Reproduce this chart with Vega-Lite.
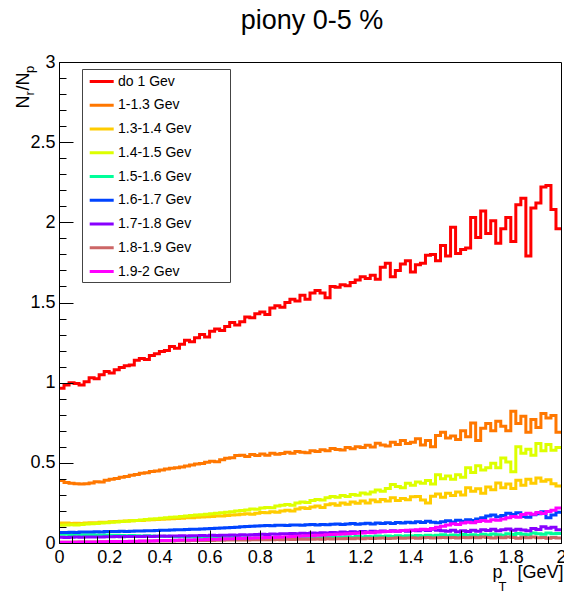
{
  "$schema": "https://vega.github.io/schema/vega-lite/v6.json",
  "width": 502,
  "height": 481,
  "autosize": {"type": "none"},
  "padding": {"left": 59, "top": 62, "right": 3, "bottom": 50},
  "background": "white",
  "title": {"text": "piony 0-5 %", "font": "Liberation Sans", "fontSize": 27, "fontWeight": "normal", "color": "black", "anchor": "middle", "frame": "group", "baseline": "alphabetic", "offset": 3, "dx": 2, "dy": 6},
  "config": {"view": {"stroke": "black", "strokeWidth": 1}, "font": "Liberation Sans"},
  "data": {"values": [
{"s":"do 1 Gev","x":0,"y":0.965},{"s":"do 1 Gev","x":0.02,"y":0.985},{"s":"do 1 Gev","x":0.04,"y":1.0},{"s":"do 1 Gev","x":0.06,"y":0.995},{"s":"do 1 Gev","x":0.08,"y":0.985},{"s":"do 1 Gev","x":0.1,"y":1.005},{"s":"do 1 Gev","x":0.12,"y":1.03},{"s":"do 1 Gev","x":0.14,"y":1.025},{"s":"do 1 Gev","x":0.16,"y":1.05},{"s":"do 1 Gev","x":0.18,"y":1.07},
{"s":"do 1 Gev","x":0.2,"y":1.06},{"s":"do 1 Gev","x":0.22,"y":1.08},{"s":"do 1 Gev","x":0.24,"y":1.095},{"s":"do 1 Gev","x":0.26,"y":1.105},{"s":"do 1 Gev","x":0.28,"y":1.11},{"s":"do 1 Gev","x":0.3,"y":1.14},{"s":"do 1 Gev","x":0.32,"y":1.15},{"s":"do 1 Gev","x":0.34,"y":1.145},{"s":"do 1 Gev","x":0.36,"y":1.17},{"s":"do 1 Gev","x":0.38,"y":1.18},
{"s":"do 1 Gev","x":0.4,"y":1.195},{"s":"do 1 Gev","x":0.42,"y":1.2},{"s":"do 1 Gev","x":0.44,"y":1.225},{"s":"do 1 Gev","x":0.46,"y":1.215},{"s":"do 1 Gev","x":0.48,"y":1.24},{"s":"do 1 Gev","x":0.5,"y":1.265},{"s":"do 1 Gev","x":0.52,"y":1.255},{"s":"do 1 Gev","x":0.54,"y":1.28},{"s":"do 1 Gev","x":0.56,"y":1.3},{"s":"do 1 Gev","x":0.58,"y":1.285},
{"s":"do 1 Gev","x":0.6,"y":1.32},{"s":"do 1 Gev","x":0.62,"y":1.335},{"s":"do 1 Gev","x":0.64,"y":1.325},{"s":"do 1 Gev","x":0.66,"y":1.35},{"s":"do 1 Gev","x":0.68,"y":1.375},{"s":"do 1 Gev","x":0.7,"y":1.36},{"s":"do 1 Gev","x":0.72,"y":1.38},{"s":"do 1 Gev","x":0.74,"y":1.41},{"s":"do 1 Gev","x":0.76,"y":1.405},{"s":"do 1 Gev","x":0.78,"y":1.43},
{"s":"do 1 Gev","x":0.8,"y":1.44},{"s":"do 1 Gev","x":0.82,"y":1.425},{"s":"do 1 Gev","x":0.84,"y":1.465},{"s":"do 1 Gev","x":0.86,"y":1.48},{"s":"do 1 Gev","x":0.88,"y":1.47},{"s":"do 1 Gev","x":0.9,"y":1.5},{"s":"do 1 Gev","x":0.92,"y":1.52},{"s":"do 1 Gev","x":0.94,"y":1.51},{"s":"do 1 Gev","x":0.96,"y":1.545},{"s":"do 1 Gev","x":0.98,"y":1.52},
{"s":"do 1 Gev","x":1,"y":1.56},{"s":"do 1 Gev","x":1.02,"y":1.575},{"s":"do 1 Gev","x":1.04,"y":1.56},{"s":"do 1 Gev","x":1.06,"y":1.53},{"s":"do 1 Gev","x":1.08,"y":1.6},{"s":"do 1 Gev","x":1.1,"y":1.595},{"s":"do 1 Gev","x":1.12,"y":1.61},{"s":"do 1 Gev","x":1.14,"y":1.605},{"s":"do 1 Gev","x":1.16,"y":1.625},{"s":"do 1 Gev","x":1.18,"y":1.64},
{"s":"do 1 Gev","x":1.2,"y":1.66},{"s":"do 1 Gev","x":1.22,"y":1.65},{"s":"do 1 Gev","x":1.24,"y":1.67},{"s":"do 1 Gev","x":1.26,"y":1.645},{"s":"do 1 Gev","x":1.28,"y":1.72},{"s":"do 1 Gev","x":1.3,"y":1.745},{"s":"do 1 Gev","x":1.32,"y":1.66},{"s":"do 1 Gev","x":1.34,"y":1.7},{"s":"do 1 Gev","x":1.36,"y":1.74},{"s":"do 1 Gev","x":1.38,"y":1.76},
{"s":"do 1 Gev","x":1.4,"y":1.69},{"s":"do 1 Gev","x":1.42,"y":1.735},{"s":"do 1 Gev","x":1.44,"y":1.745},{"s":"do 1 Gev","x":1.46,"y":1.795},{"s":"do 1 Gev","x":1.48,"y":1.8},{"s":"do 1 Gev","x":1.5,"y":1.76},{"s":"do 1 Gev","x":1.52,"y":1.855},{"s":"do 1 Gev","x":1.54,"y":1.79},{"s":"do 1 Gev","x":1.56,"y":1.97},{"s":"do 1 Gev","x":1.58,"y":1.805},
{"s":"do 1 Gev","x":1.6,"y":1.83},{"s":"do 1 Gev","x":1.62,"y":1.84},{"s":"do 1 Gev","x":1.64,"y":2.03},{"s":"do 1 Gev","x":1.66,"y":1.905},{"s":"do 1 Gev","x":1.68,"y":2.07},{"s":"do 1 Gev","x":1.7,"y":1.93},{"s":"do 1 Gev","x":1.72,"y":2.01},{"s":"do 1 Gev","x":1.74,"y":1.87},{"s":"do 1 Gev","x":1.76,"y":1.96},{"s":"do 1 Gev","x":1.78,"y":2.03},
{"s":"do 1 Gev","x":1.8,"y":1.88},{"s":"do 1 Gev","x":1.82,"y":2.11},{"s":"do 1 Gev","x":1.84,"y":2.15},{"s":"do 1 Gev","x":1.86,"y":1.79},{"s":"do 1 Gev","x":1.88,"y":2.09},{"s":"do 1 Gev","x":1.9,"y":2.12},{"s":"do 1 Gev","x":1.92,"y":2.22},{"s":"do 1 Gev","x":1.94,"y":2.23},{"s":"do 1 Gev","x":1.96,"y":2.08},{"s":"do 1 Gev","x":1.98,"y":1.96},
{"s":"do 1 Gev","x":2,"y":1.96},
{"s":"1-1.3 Gev","x":0,"y":0.39},{"s":"1-1.3 Gev","x":0.02,"y":0.378},{"s":"1-1.3 Gev","x":0.04,"y":0.372},{"s":"1-1.3 Gev","x":0.06,"y":0.37},{"s":"1-1.3 Gev","x":0.08,"y":0.368},{"s":"1-1.3 Gev","x":0.1,"y":0.369},{"s":"1-1.3 Gev","x":0.12,"y":0.375},{"s":"1-1.3 Gev","x":0.14,"y":0.382},{"s":"1-1.3 Gev","x":0.16,"y":0.38},{"s":"1-1.3 Gev","x":0.18,"y":0.392},
{"s":"1-1.3 Gev","x":0.2,"y":0.398},{"s":"1-1.3 Gev","x":0.22,"y":0.402},{"s":"1-1.3 Gev","x":0.24,"y":0.41},{"s":"1-1.3 Gev","x":0.26,"y":0.414},{"s":"1-1.3 Gev","x":0.28,"y":0.422},{"s":"1-1.3 Gev","x":0.3,"y":0.428},{"s":"1-1.3 Gev","x":0.32,"y":0.435},{"s":"1-1.3 Gev","x":0.34,"y":0.438},{"s":"1-1.3 Gev","x":0.36,"y":0.446},{"s":"1-1.3 Gev","x":0.38,"y":0.449},
{"s":"1-1.3 Gev","x":0.4,"y":0.455},{"s":"1-1.3 Gev","x":0.42,"y":0.462},{"s":"1-1.3 Gev","x":0.44,"y":0.466},{"s":"1-1.3 Gev","x":0.46,"y":0.47},{"s":"1-1.3 Gev","x":0.48,"y":0.474},{"s":"1-1.3 Gev","x":0.5,"y":0.48},{"s":"1-1.3 Gev","x":0.52,"y":0.486},{"s":"1-1.3 Gev","x":0.54,"y":0.492},{"s":"1-1.3 Gev","x":0.56,"y":0.496},{"s":"1-1.3 Gev","x":0.58,"y":0.503},
{"s":"1-1.3 Gev","x":0.6,"y":0.51},{"s":"1-1.3 Gev","x":0.62,"y":0.507},{"s":"1-1.3 Gev","x":0.64,"y":0.52},{"s":"1-1.3 Gev","x":0.66,"y":0.528},{"s":"1-1.3 Gev","x":0.68,"y":0.532},{"s":"1-1.3 Gev","x":0.7,"y":0.545},{"s":"1-1.3 Gev","x":0.72,"y":0.548},{"s":"1-1.3 Gev","x":0.74,"y":0.54},{"s":"1-1.3 Gev","x":0.76,"y":0.552},{"s":"1-1.3 Gev","x":0.78,"y":0.546},
{"s":"1-1.3 Gev","x":0.8,"y":0.555},{"s":"1-1.3 Gev","x":0.82,"y":0.548},{"s":"1-1.3 Gev","x":0.84,"y":0.56},{"s":"1-1.3 Gev","x":0.86,"y":0.553},{"s":"1-1.3 Gev","x":0.88,"y":0.558},{"s":"1-1.3 Gev","x":0.9,"y":0.566},{"s":"1-1.3 Gev","x":0.92,"y":0.56},{"s":"1-1.3 Gev","x":0.94,"y":0.571},{"s":"1-1.3 Gev","x":0.96,"y":0.566},{"s":"1-1.3 Gev","x":0.98,"y":0.563},
{"s":"1-1.3 Gev","x":1,"y":0.575},{"s":"1-1.3 Gev","x":1.02,"y":0.57},{"s":"1-1.3 Gev","x":1.04,"y":0.582},{"s":"1-1.3 Gev","x":1.06,"y":0.575},{"s":"1-1.3 Gev","x":1.08,"y":0.59},{"s":"1-1.3 Gev","x":1.1,"y":0.583},{"s":"1-1.3 Gev","x":1.12,"y":0.58},{"s":"1-1.3 Gev","x":1.14,"y":0.595},{"s":"1-1.3 Gev","x":1.16,"y":0.588},{"s":"1-1.3 Gev","x":1.18,"y":0.6},
{"s":"1-1.3 Gev","x":1.2,"y":0.596},{"s":"1-1.3 Gev","x":1.22,"y":0.61},{"s":"1-1.3 Gev","x":1.24,"y":0.598},{"s":"1-1.3 Gev","x":1.26,"y":0.622},{"s":"1-1.3 Gev","x":1.28,"y":0.612},{"s":"1-1.3 Gev","x":1.3,"y":0.605},{"s":"1-1.3 Gev","x":1.32,"y":0.628},{"s":"1-1.3 Gev","x":1.34,"y":0.615},{"s":"1-1.3 Gev","x":1.36,"y":0.64},{"s":"1-1.3 Gev","x":1.38,"y":0.62},
{"s":"1-1.3 Gev","x":1.4,"y":0.628},{"s":"1-1.3 Gev","x":1.42,"y":0.65},{"s":"1-1.3 Gev","x":1.44,"y":0.612},{"s":"1-1.3 Gev","x":1.46,"y":0.64},{"s":"1-1.3 Gev","x":1.48,"y":0.6},{"s":"1-1.3 Gev","x":1.5,"y":0.67},{"s":"1-1.3 Gev","x":1.52,"y":0.69},{"s":"1-1.3 Gev","x":1.54,"y":0.655},{"s":"1-1.3 Gev","x":1.56,"y":0.668},{"s":"1-1.3 Gev","x":1.58,"y":0.645},
{"s":"1-1.3 Gev","x":1.6,"y":0.7},{"s":"1-1.3 Gev","x":1.62,"y":0.662},{"s":"1-1.3 Gev","x":1.64,"y":0.748},{"s":"1-1.3 Gev","x":1.66,"y":0.64},{"s":"1-1.3 Gev","x":1.68,"y":0.715},{"s":"1-1.3 Gev","x":1.7,"y":0.745},{"s":"1-1.3 Gev","x":1.72,"y":0.7},{"s":"1-1.3 Gev","x":1.74,"y":0.76},{"s":"1-1.3 Gev","x":1.76,"y":0.728},{"s":"1-1.3 Gev","x":1.78,"y":0.7},
{"s":"1-1.3 Gev","x":1.8,"y":0.822},{"s":"1-1.3 Gev","x":1.82,"y":0.745},{"s":"1-1.3 Gev","x":1.84,"y":0.79},{"s":"1-1.3 Gev","x":1.86,"y":0.69},{"s":"1-1.3 Gev","x":1.88,"y":0.77},{"s":"1-1.3 Gev","x":1.9,"y":0.72},{"s":"1-1.3 Gev","x":1.92,"y":0.808},{"s":"1-1.3 Gev","x":1.94,"y":0.78},{"s":"1-1.3 Gev","x":1.96,"y":0.795},{"s":"1-1.3 Gev","x":1.98,"y":0.69},
{"s":"1-1.3 Gev","x":2,"y":0.69},
{"s":"1.3-1.4 Gev","x":0,"y":0.125},{"s":"1.3-1.4 Gev","x":0.02,"y":0.124},{"s":"1.3-1.4 Gev","x":0.04,"y":0.122},{"s":"1.3-1.4 Gev","x":0.06,"y":0.123},{"s":"1.3-1.4 Gev","x":0.08,"y":0.121},{"s":"1.3-1.4 Gev","x":0.1,"y":0.124},{"s":"1.3-1.4 Gev","x":0.12,"y":0.126},{"s":"1.3-1.4 Gev","x":0.14,"y":0.127},{"s":"1.3-1.4 Gev","x":0.16,"y":0.129},{"s":"1.3-1.4 Gev","x":0.18,"y":0.13},
{"s":"1.3-1.4 Gev","x":0.2,"y":0.132},{"s":"1.3-1.4 Gev","x":0.22,"y":0.134},{"s":"1.3-1.4 Gev","x":0.24,"y":0.135},{"s":"1.3-1.4 Gev","x":0.26,"y":0.137},{"s":"1.3-1.4 Gev","x":0.28,"y":0.138},{"s":"1.3-1.4 Gev","x":0.3,"y":0.14},{"s":"1.3-1.4 Gev","x":0.32,"y":0.141},{"s":"1.3-1.4 Gev","x":0.34,"y":0.143},{"s":"1.3-1.4 Gev","x":0.36,"y":0.145},{"s":"1.3-1.4 Gev","x":0.38,"y":0.146},
{"s":"1.3-1.4 Gev","x":0.4,"y":0.148},{"s":"1.3-1.4 Gev","x":0.42,"y":0.15},{"s":"1.3-1.4 Gev","x":0.44,"y":0.151},{"s":"1.3-1.4 Gev","x":0.46,"y":0.153},{"s":"1.3-1.4 Gev","x":0.48,"y":0.155},{"s":"1.3-1.4 Gev","x":0.5,"y":0.157},{"s":"1.3-1.4 Gev","x":0.52,"y":0.158},{"s":"1.3-1.4 Gev","x":0.54,"y":0.16},{"s":"1.3-1.4 Gev","x":0.56,"y":0.162},{"s":"1.3-1.4 Gev","x":0.58,"y":0.163},
{"s":"1.3-1.4 Gev","x":0.6,"y":0.166},{"s":"1.3-1.4 Gev","x":0.62,"y":0.168},{"s":"1.3-1.4 Gev","x":0.64,"y":0.169},{"s":"1.3-1.4 Gev","x":0.66,"y":0.172},{"s":"1.3-1.4 Gev","x":0.68,"y":0.175},{"s":"1.3-1.4 Gev","x":0.7,"y":0.176},{"s":"1.3-1.4 Gev","x":0.72,"y":0.18},{"s":"1.3-1.4 Gev","x":0.74,"y":0.182},{"s":"1.3-1.4 Gev","x":0.76,"y":0.18},{"s":"1.3-1.4 Gev","x":0.78,"y":0.186},
{"s":"1.3-1.4 Gev","x":0.8,"y":0.19},{"s":"1.3-1.4 Gev","x":0.82,"y":0.188},{"s":"1.3-1.4 Gev","x":0.84,"y":0.195},{"s":"1.3-1.4 Gev","x":0.86,"y":0.192},{"s":"1.3-1.4 Gev","x":0.88,"y":0.2},{"s":"1.3-1.4 Gev","x":0.9,"y":0.205},{"s":"1.3-1.4 Gev","x":0.92,"y":0.199},{"s":"1.3-1.4 Gev","x":0.94,"y":0.212},{"s":"1.3-1.4 Gev","x":0.96,"y":0.22},{"s":"1.3-1.4 Gev","x":0.98,"y":0.215},
{"s":"1.3-1.4 Gev","x":1,"y":0.224},{"s":"1.3-1.4 Gev","x":1.02,"y":0.23},{"s":"1.3-1.4 Gev","x":1.04,"y":0.222},{"s":"1.3-1.4 Gev","x":1.06,"y":0.238},{"s":"1.3-1.4 Gev","x":1.08,"y":0.245},{"s":"1.3-1.4 Gev","x":1.1,"y":0.236},{"s":"1.3-1.4 Gev","x":1.12,"y":0.25},{"s":"1.3-1.4 Gev","x":1.14,"y":0.242},{"s":"1.3-1.4 Gev","x":1.16,"y":0.255},{"s":"1.3-1.4 Gev","x":1.18,"y":0.248},
{"s":"1.3-1.4 Gev","x":1.2,"y":0.262},{"s":"1.3-1.4 Gev","x":1.22,"y":0.25},{"s":"1.3-1.4 Gev","x":1.24,"y":0.268},{"s":"1.3-1.4 Gev","x":1.26,"y":0.258},{"s":"1.3-1.4 Gev","x":1.28,"y":0.272},{"s":"1.3-1.4 Gev","x":1.3,"y":0.262},{"s":"1.3-1.4 Gev","x":1.32,"y":0.282},{"s":"1.3-1.4 Gev","x":1.34,"y":0.265},{"s":"1.3-1.4 Gev","x":1.36,"y":0.278},{"s":"1.3-1.4 Gev","x":1.38,"y":0.27},
{"s":"1.3-1.4 Gev","x":1.4,"y":0.288},{"s":"1.3-1.4 Gev","x":1.42,"y":0.29},{"s":"1.3-1.4 Gev","x":1.44,"y":0.268},{"s":"1.3-1.4 Gev","x":1.46,"y":0.25},{"s":"1.3-1.4 Gev","x":1.48,"y":0.292},{"s":"1.3-1.4 Gev","x":1.5,"y":0.305},{"s":"1.3-1.4 Gev","x":1.52,"y":0.285},{"s":"1.3-1.4 Gev","x":1.54,"y":0.31},{"s":"1.3-1.4 Gev","x":1.56,"y":0.296},{"s":"1.3-1.4 Gev","x":1.58,"y":0.318},
{"s":"1.3-1.4 Gev","x":1.6,"y":0.3},{"s":"1.3-1.4 Gev","x":1.62,"y":0.345},{"s":"1.3-1.4 Gev","x":1.64,"y":0.322},{"s":"1.3-1.4 Gev","x":1.66,"y":0.338},{"s":"1.3-1.4 Gev","x":1.68,"y":0.31},{"s":"1.3-1.4 Gev","x":1.7,"y":0.35},{"s":"1.3-1.4 Gev","x":1.72,"y":0.332},{"s":"1.3-1.4 Gev","x":1.74,"y":0.375},{"s":"1.3-1.4 Gev","x":1.76,"y":0.345},{"s":"1.3-1.4 Gev","x":1.78,"y":0.368},
{"s":"1.3-1.4 Gev","x":1.8,"y":0.34},{"s":"1.3-1.4 Gev","x":1.82,"y":0.392},{"s":"1.3-1.4 Gev","x":1.84,"y":0.36},{"s":"1.3-1.4 Gev","x":1.86,"y":0.398},{"s":"1.3-1.4 Gev","x":1.88,"y":0.372},{"s":"1.3-1.4 Gev","x":1.9,"y":0.405},{"s":"1.3-1.4 Gev","x":1.92,"y":0.385},{"s":"1.3-1.4 Gev","x":1.94,"y":0.395},{"s":"1.3-1.4 Gev","x":1.96,"y":0.37},{"s":"1.3-1.4 Gev","x":1.98,"y":0.355},
{"s":"1.3-1.4 Gev","x":2,"y":0.355},
{"s":"1.4-1.5 Gev","x":0,"y":0.11},{"s":"1.4-1.5 Gev","x":0.02,"y":0.112},{"s":"1.4-1.5 Gev","x":0.04,"y":0.114},{"s":"1.4-1.5 Gev","x":0.06,"y":0.113},{"s":"1.4-1.5 Gev","x":0.08,"y":0.116},{"s":"1.4-1.5 Gev","x":0.1,"y":0.118},{"s":"1.4-1.5 Gev","x":0.12,"y":0.12},{"s":"1.4-1.5 Gev","x":0.14,"y":0.121},{"s":"1.4-1.5 Gev","x":0.16,"y":0.124},{"s":"1.4-1.5 Gev","x":0.18,"y":0.126},
{"s":"1.4-1.5 Gev","x":0.2,"y":0.13},{"s":"1.4-1.5 Gev","x":0.22,"y":0.131},{"s":"1.4-1.5 Gev","x":0.24,"y":0.134},{"s":"1.4-1.5 Gev","x":0.26,"y":0.136},{"s":"1.4-1.5 Gev","x":0.28,"y":0.139},{"s":"1.4-1.5 Gev","x":0.3,"y":0.141},{"s":"1.4-1.5 Gev","x":0.32,"y":0.144},{"s":"1.4-1.5 Gev","x":0.34,"y":0.146},{"s":"1.4-1.5 Gev","x":0.36,"y":0.149},{"s":"1.4-1.5 Gev","x":0.38,"y":0.151},
{"s":"1.4-1.5 Gev","x":0.4,"y":0.155},{"s":"1.4-1.5 Gev","x":0.42,"y":0.157},{"s":"1.4-1.5 Gev","x":0.44,"y":0.16},{"s":"1.4-1.5 Gev","x":0.46,"y":0.162},{"s":"1.4-1.5 Gev","x":0.48,"y":0.166},{"s":"1.4-1.5 Gev","x":0.5,"y":0.168},{"s":"1.4-1.5 Gev","x":0.52,"y":0.171},{"s":"1.4-1.5 Gev","x":0.54,"y":0.174},{"s":"1.4-1.5 Gev","x":0.56,"y":0.176},{"s":"1.4-1.5 Gev","x":0.58,"y":0.179},
{"s":"1.4-1.5 Gev","x":0.6,"y":0.183},{"s":"1.4-1.5 Gev","x":0.62,"y":0.185},{"s":"1.4-1.5 Gev","x":0.64,"y":0.188},{"s":"1.4-1.5 Gev","x":0.66,"y":0.192},{"s":"1.4-1.5 Gev","x":0.68,"y":0.195},{"s":"1.4-1.5 Gev","x":0.7,"y":0.199},{"s":"1.4-1.5 Gev","x":0.72,"y":0.203},{"s":"1.4-1.5 Gev","x":0.74,"y":0.206},{"s":"1.4-1.5 Gev","x":0.76,"y":0.212},{"s":"1.4-1.5 Gev","x":0.78,"y":0.21},
{"s":"1.4-1.5 Gev","x":0.8,"y":0.218},{"s":"1.4-1.5 Gev","x":0.82,"y":0.222},{"s":"1.4-1.5 Gev","x":0.84,"y":0.22},{"s":"1.4-1.5 Gev","x":0.86,"y":0.23},{"s":"1.4-1.5 Gev","x":0.88,"y":0.235},{"s":"1.4-1.5 Gev","x":0.9,"y":0.24},{"s":"1.4-1.5 Gev","x":0.92,"y":0.236},{"s":"1.4-1.5 Gev","x":0.94,"y":0.25},{"s":"1.4-1.5 Gev","x":0.96,"y":0.256},{"s":"1.4-1.5 Gev","x":0.98,"y":0.252},
{"s":"1.4-1.5 Gev","x":1,"y":0.265},{"s":"1.4-1.5 Gev","x":1.02,"y":0.272},{"s":"1.4-1.5 Gev","x":1.04,"y":0.268},{"s":"1.4-1.5 Gev","x":1.06,"y":0.282},{"s":"1.4-1.5 Gev","x":1.08,"y":0.29},{"s":"1.4-1.5 Gev","x":1.1,"y":0.285},{"s":"1.4-1.5 Gev","x":1.12,"y":0.296},{"s":"1.4-1.5 Gev","x":1.14,"y":0.29},{"s":"1.4-1.5 Gev","x":1.16,"y":0.302},{"s":"1.4-1.5 Gev","x":1.18,"y":0.298},
{"s":"1.4-1.5 Gev","x":1.2,"y":0.312},{"s":"1.4-1.5 Gev","x":1.22,"y":0.305},{"s":"1.4-1.5 Gev","x":1.24,"y":0.318},{"s":"1.4-1.5 Gev","x":1.26,"y":0.33},{"s":"1.4-1.5 Gev","x":1.28,"y":0.322},{"s":"1.4-1.5 Gev","x":1.3,"y":0.34},{"s":"1.4-1.5 Gev","x":1.32,"y":0.365},{"s":"1.4-1.5 Gev","x":1.34,"y":0.352},{"s":"1.4-1.5 Gev","x":1.36,"y":0.345},{"s":"1.4-1.5 Gev","x":1.38,"y":0.372},
{"s":"1.4-1.5 Gev","x":1.4,"y":0.36},{"s":"1.4-1.5 Gev","x":1.42,"y":0.38},{"s":"1.4-1.5 Gev","x":1.44,"y":0.372},{"s":"1.4-1.5 Gev","x":1.46,"y":0.39},{"s":"1.4-1.5 Gev","x":1.48,"y":0.368},{"s":"1.4-1.5 Gev","x":1.5,"y":0.425},{"s":"1.4-1.5 Gev","x":1.52,"y":0.4},{"s":"1.4-1.5 Gev","x":1.54,"y":0.418},{"s":"1.4-1.5 Gev","x":1.56,"y":0.398},{"s":"1.4-1.5 Gev","x":1.58,"y":0.425},
{"s":"1.4-1.5 Gev","x":1.6,"y":0.41},{"s":"1.4-1.5 Gev","x":1.62,"y":0.47},{"s":"1.4-1.5 Gev","x":1.64,"y":0.44},{"s":"1.4-1.5 Gev","x":1.66,"y":0.482},{"s":"1.4-1.5 Gev","x":1.68,"y":0.455},{"s":"1.4-1.5 Gev","x":1.7,"y":0.47},{"s":"1.4-1.5 Gev","x":1.72,"y":0.498},{"s":"1.4-1.5 Gev","x":1.74,"y":0.47},{"s":"1.4-1.5 Gev","x":1.76,"y":0.53},{"s":"1.4-1.5 Gev","x":1.78,"y":0.505},
{"s":"1.4-1.5 Gev","x":1.8,"y":0.445},{"s":"1.4-1.5 Gev","x":1.82,"y":0.6},{"s":"1.4-1.5 Gev","x":1.84,"y":0.56},{"s":"1.4-1.5 Gev","x":1.86,"y":0.585},{"s":"1.4-1.5 Gev","x":1.88,"y":0.548},{"s":"1.4-1.5 Gev","x":1.9,"y":0.62},{"s":"1.4-1.5 Gev","x":1.92,"y":0.575},{"s":"1.4-1.5 Gev","x":1.94,"y":0.615},{"s":"1.4-1.5 Gev","x":1.96,"y":0.578},{"s":"1.4-1.5 Gev","x":1.98,"y":0.595},
{"s":"1.4-1.5 Gev","x":2,"y":0.595},
{"s":"1.5-1.6 Gev","x":0,"y":0.055},{"s":"1.5-1.6 Gev","x":0.02,"y":0.054},{"s":"1.5-1.6 Gev","x":0.04,"y":0.053},{"s":"1.5-1.6 Gev","x":0.06,"y":0.054},{"s":"1.5-1.6 Gev","x":0.08,"y":0.052},{"s":"1.5-1.6 Gev","x":0.1,"y":0.051},{"s":"1.5-1.6 Gev","x":0.12,"y":0.052},{"s":"1.5-1.6 Gev","x":0.14,"y":0.05},{"s":"1.5-1.6 Gev","x":0.16,"y":0.049},{"s":"1.5-1.6 Gev","x":0.18,"y":0.05},
{"s":"1.5-1.6 Gev","x":0.2,"y":0.049},{"s":"1.5-1.6 Gev","x":0.22,"y":0.048},{"s":"1.5-1.6 Gev","x":0.24,"y":0.047},{"s":"1.5-1.6 Gev","x":0.26,"y":0.046},{"s":"1.5-1.6 Gev","x":0.28,"y":0.047},{"s":"1.5-1.6 Gev","x":0.3,"y":0.045},{"s":"1.5-1.6 Gev","x":0.32,"y":0.044},{"s":"1.5-1.6 Gev","x":0.34,"y":0.045},{"s":"1.5-1.6 Gev","x":0.36,"y":0.043},{"s":"1.5-1.6 Gev","x":0.38,"y":0.042},
{"s":"1.5-1.6 Gev","x":0.4,"y":0.041},{"s":"1.5-1.6 Gev","x":0.42,"y":0.042},{"s":"1.5-1.6 Gev","x":0.44,"y":0.04},{"s":"1.5-1.6 Gev","x":0.46,"y":0.039},{"s":"1.5-1.6 Gev","x":0.48,"y":0.04},{"s":"1.5-1.6 Gev","x":0.5,"y":0.038},{"s":"1.5-1.6 Gev","x":0.52,"y":0.037},{"s":"1.5-1.6 Gev","x":0.54,"y":0.038},{"s":"1.5-1.6 Gev","x":0.56,"y":0.036},{"s":"1.5-1.6 Gev","x":0.58,"y":0.035},
{"s":"1.5-1.6 Gev","x":0.6,"y":0.036},{"s":"1.5-1.6 Gev","x":0.62,"y":0.034},{"s":"1.5-1.6 Gev","x":0.64,"y":0.035},{"s":"1.5-1.6 Gev","x":0.66,"y":0.033},{"s":"1.5-1.6 Gev","x":0.68,"y":0.034},{"s":"1.5-1.6 Gev","x":0.7,"y":0.032},{"s":"1.5-1.6 Gev","x":0.72,"y":0.033},{"s":"1.5-1.6 Gev","x":0.74,"y":0.032},{"s":"1.5-1.6 Gev","x":0.76,"y":0.031},{"s":"1.5-1.6 Gev","x":0.78,"y":0.033},
{"s":"1.5-1.6 Gev","x":0.8,"y":0.032},{"s":"1.5-1.6 Gev","x":0.82,"y":0.031},{"s":"1.5-1.6 Gev","x":0.84,"y":0.033},{"s":"1.5-1.6 Gev","x":0.86,"y":0.032},{"s":"1.5-1.6 Gev","x":0.88,"y":0.034},{"s":"1.5-1.6 Gev","x":0.9,"y":0.031},{"s":"1.5-1.6 Gev","x":0.92,"y":0.033},{"s":"1.5-1.6 Gev","x":0.94,"y":0.035},{"s":"1.5-1.6 Gev","x":0.96,"y":0.032},{"s":"1.5-1.6 Gev","x":0.98,"y":0.034},
{"s":"1.5-1.6 Gev","x":1,"y":0.035},{"s":"1.5-1.6 Gev","x":1.02,"y":0.033},{"s":"1.5-1.6 Gev","x":1.04,"y":0.036},{"s":"1.5-1.6 Gev","x":1.06,"y":0.034},{"s":"1.5-1.6 Gev","x":1.08,"y":0.038},{"s":"1.5-1.6 Gev","x":1.1,"y":0.035},{"s":"1.5-1.6 Gev","x":1.12,"y":0.037},{"s":"1.5-1.6 Gev","x":1.14,"y":0.039},{"s":"1.5-1.6 Gev","x":1.16,"y":0.036},{"s":"1.5-1.6 Gev","x":1.18,"y":0.04},
{"s":"1.5-1.6 Gev","x":1.2,"y":0.038},{"s":"1.5-1.6 Gev","x":1.22,"y":0.041},{"s":"1.5-1.6 Gev","x":1.24,"y":0.039},{"s":"1.5-1.6 Gev","x":1.26,"y":0.043},{"s":"1.5-1.6 Gev","x":1.28,"y":0.04},{"s":"1.5-1.6 Gev","x":1.3,"y":0.044},{"s":"1.5-1.6 Gev","x":1.32,"y":0.041},{"s":"1.5-1.6 Gev","x":1.34,"y":0.045},{"s":"1.5-1.6 Gev","x":1.36,"y":0.042},{"s":"1.5-1.6 Gev","x":1.38,"y":0.046},
{"s":"1.5-1.6 Gev","x":1.4,"y":0.043},{"s":"1.5-1.6 Gev","x":1.42,"y":0.047},{"s":"1.5-1.6 Gev","x":1.44,"y":0.044},{"s":"1.5-1.6 Gev","x":1.46,"y":0.049},{"s":"1.5-1.6 Gev","x":1.48,"y":0.045},{"s":"1.5-1.6 Gev","x":1.5,"y":0.048},{"s":"1.5-1.6 Gev","x":1.52,"y":0.052},{"s":"1.5-1.6 Gev","x":1.54,"y":0.046},{"s":"1.5-1.6 Gev","x":1.56,"y":0.05},{"s":"1.5-1.6 Gev","x":1.58,"y":0.047},
{"s":"1.5-1.6 Gev","x":1.6,"y":0.053},{"s":"1.5-1.6 Gev","x":1.62,"y":0.049},{"s":"1.5-1.6 Gev","x":1.64,"y":0.051},{"s":"1.5-1.6 Gev","x":1.66,"y":0.047},{"s":"1.5-1.6 Gev","x":1.68,"y":0.055},{"s":"1.5-1.6 Gev","x":1.7,"y":0.05},{"s":"1.5-1.6 Gev","x":1.72,"y":0.056},{"s":"1.5-1.6 Gev","x":1.74,"y":0.052},{"s":"1.5-1.6 Gev","x":1.76,"y":0.049},{"s":"1.5-1.6 Gev","x":1.78,"y":0.058},
{"s":"1.5-1.6 Gev","x":1.8,"y":0.053},{"s":"1.5-1.6 Gev","x":1.82,"y":0.06},{"s":"1.5-1.6 Gev","x":1.84,"y":0.055},{"s":"1.5-1.6 Gev","x":1.86,"y":0.051},{"s":"1.5-1.6 Gev","x":1.88,"y":0.062},{"s":"1.5-1.6 Gev","x":1.9,"y":0.057},{"s":"1.5-1.6 Gev","x":1.92,"y":0.054},{"s":"1.5-1.6 Gev","x":1.94,"y":0.063},{"s":"1.5-1.6 Gev","x":1.96,"y":0.058},{"s":"1.5-1.6 Gev","x":1.98,"y":0.06},
{"s":"1.5-1.6 Gev","x":2,"y":0.06},
{"s":"1.6-1.7 Gev","x":0,"y":0.065},{"s":"1.6-1.7 Gev","x":0.02,"y":0.066},{"s":"1.6-1.7 Gev","x":0.04,"y":0.067},{"s":"1.6-1.7 Gev","x":0.06,"y":0.066},{"s":"1.6-1.7 Gev","x":0.08,"y":0.068},{"s":"1.6-1.7 Gev","x":0.1,"y":0.068},{"s":"1.6-1.7 Gev","x":0.12,"y":0.069},{"s":"1.6-1.7 Gev","x":0.14,"y":0.07},{"s":"1.6-1.7 Gev","x":0.16,"y":0.069},{"s":"1.6-1.7 Gev","x":0.18,"y":0.071},
{"s":"1.6-1.7 Gev","x":0.2,"y":0.071},{"s":"1.6-1.7 Gev","x":0.22,"y":0.072},{"s":"1.6-1.7 Gev","x":0.24,"y":0.073},{"s":"1.6-1.7 Gev","x":0.26,"y":0.072},{"s":"1.6-1.7 Gev","x":0.28,"y":0.074},{"s":"1.6-1.7 Gev","x":0.3,"y":0.075},{"s":"1.6-1.7 Gev","x":0.32,"y":0.075},{"s":"1.6-1.7 Gev","x":0.34,"y":0.076},{"s":"1.6-1.7 Gev","x":0.36,"y":0.077},{"s":"1.6-1.7 Gev","x":0.38,"y":0.078},
{"s":"1.6-1.7 Gev","x":0.4,"y":0.079},{"s":"1.6-1.7 Gev","x":0.42,"y":0.08},{"s":"1.6-1.7 Gev","x":0.44,"y":0.081},{"s":"1.6-1.7 Gev","x":0.46,"y":0.082},{"s":"1.6-1.7 Gev","x":0.48,"y":0.083},{"s":"1.6-1.7 Gev","x":0.5,"y":0.084},{"s":"1.6-1.7 Gev","x":0.52,"y":0.085},{"s":"1.6-1.7 Gev","x":0.54,"y":0.086},{"s":"1.6-1.7 Gev","x":0.56,"y":0.087},{"s":"1.6-1.7 Gev","x":0.58,"y":0.089},
{"s":"1.6-1.7 Gev","x":0.6,"y":0.09},{"s":"1.6-1.7 Gev","x":0.62,"y":0.092},{"s":"1.6-1.7 Gev","x":0.64,"y":0.093},{"s":"1.6-1.7 Gev","x":0.66,"y":0.095},{"s":"1.6-1.7 Gev","x":0.68,"y":0.097},{"s":"1.6-1.7 Gev","x":0.7,"y":0.099},{"s":"1.6-1.7 Gev","x":0.72,"y":0.101},{"s":"1.6-1.7 Gev","x":0.74,"y":0.103},{"s":"1.6-1.7 Gev","x":0.76,"y":0.104},{"s":"1.6-1.7 Gev","x":0.78,"y":0.106},
{"s":"1.6-1.7 Gev","x":0.8,"y":0.107},{"s":"1.6-1.7 Gev","x":0.82,"y":0.109},{"s":"1.6-1.7 Gev","x":0.84,"y":0.108},{"s":"1.6-1.7 Gev","x":0.86,"y":0.11},{"s":"1.6-1.7 Gev","x":0.88,"y":0.111},{"s":"1.6-1.7 Gev","x":0.9,"y":0.109},{"s":"1.6-1.7 Gev","x":0.92,"y":0.112},{"s":"1.6-1.7 Gev","x":0.94,"y":0.113},{"s":"1.6-1.7 Gev","x":0.96,"y":0.111},{"s":"1.6-1.7 Gev","x":0.98,"y":0.114},
{"s":"1.6-1.7 Gev","x":1,"y":0.115},{"s":"1.6-1.7 Gev","x":1.02,"y":0.113},{"s":"1.6-1.7 Gev","x":1.04,"y":0.116},{"s":"1.6-1.7 Gev","x":1.06,"y":0.114},{"s":"1.6-1.7 Gev","x":1.08,"y":0.117},{"s":"1.6-1.7 Gev","x":1.1,"y":0.119},{"s":"1.6-1.7 Gev","x":1.12,"y":0.116},{"s":"1.6-1.7 Gev","x":1.14,"y":0.118},{"s":"1.6-1.7 Gev","x":1.16,"y":0.121},{"s":"1.6-1.7 Gev","x":1.18,"y":0.117},
{"s":"1.6-1.7 Gev","x":1.2,"y":0.12},{"s":"1.6-1.7 Gev","x":1.22,"y":0.123},{"s":"1.6-1.7 Gev","x":1.24,"y":0.119},{"s":"1.6-1.7 Gev","x":1.26,"y":0.124},{"s":"1.6-1.7 Gev","x":1.28,"y":0.121},{"s":"1.6-1.7 Gev","x":1.3,"y":0.126},{"s":"1.6-1.7 Gev","x":1.32,"y":0.122},{"s":"1.6-1.7 Gev","x":1.34,"y":0.128},{"s":"1.6-1.7 Gev","x":1.36,"y":0.124},{"s":"1.6-1.7 Gev","x":1.38,"y":0.13},
{"s":"1.6-1.7 Gev","x":1.4,"y":0.126},{"s":"1.6-1.7 Gev","x":1.42,"y":0.132},{"s":"1.6-1.7 Gev","x":1.44,"y":0.128},{"s":"1.6-1.7 Gev","x":1.46,"y":0.135},{"s":"1.6-1.7 Gev","x":1.48,"y":0.13},{"s":"1.6-1.7 Gev","x":1.5,"y":0.127},{"s":"1.6-1.7 Gev","x":1.52,"y":0.133},{"s":"1.6-1.7 Gev","x":1.54,"y":0.138},{"s":"1.6-1.7 Gev","x":1.56,"y":0.131},{"s":"1.6-1.7 Gev","x":1.58,"y":0.142},
{"s":"1.6-1.7 Gev","x":1.6,"y":0.136},{"s":"1.6-1.7 Gev","x":1.62,"y":0.145},{"s":"1.6-1.7 Gev","x":1.64,"y":0.14},{"s":"1.6-1.7 Gev","x":1.66,"y":0.15},{"s":"1.6-1.7 Gev","x":1.68,"y":0.158},{"s":"1.6-1.7 Gev","x":1.7,"y":0.168},{"s":"1.6-1.7 Gev","x":1.72,"y":0.175},{"s":"1.6-1.7 Gev","x":1.74,"y":0.163},{"s":"1.6-1.7 Gev","x":1.76,"y":0.172},{"s":"1.6-1.7 Gev","x":1.78,"y":0.185},
{"s":"1.6-1.7 Gev","x":1.8,"y":0.178},{"s":"1.6-1.7 Gev","x":1.82,"y":0.188},{"s":"1.6-1.7 Gev","x":1.84,"y":0.165},{"s":"1.6-1.7 Gev","x":1.86,"y":0.16},{"s":"1.6-1.7 Gev","x":1.88,"y":0.176},{"s":"1.6-1.7 Gev","x":1.9,"y":0.182},{"s":"1.6-1.7 Gev","x":1.92,"y":0.195},{"s":"1.6-1.7 Gev","x":1.94,"y":0.158},{"s":"1.6-1.7 Gev","x":1.96,"y":0.175},{"s":"1.6-1.7 Gev","x":1.98,"y":0.192},
{"s":"1.6-1.7 Gev","x":2,"y":0.192},
{"s":"1.7-1.8 Gev","x":0,"y":0.036},{"s":"1.7-1.8 Gev","x":0.02,"y":0.035},{"s":"1.7-1.8 Gev","x":0.04,"y":0.036},{"s":"1.7-1.8 Gev","x":0.06,"y":0.037},{"s":"1.7-1.8 Gev","x":0.08,"y":0.036},{"s":"1.7-1.8 Gev","x":0.1,"y":0.037},{"s":"1.7-1.8 Gev","x":0.12,"y":0.038},{"s":"1.7-1.8 Gev","x":0.14,"y":0.037},{"s":"1.7-1.8 Gev","x":0.16,"y":0.038},{"s":"1.7-1.8 Gev","x":0.18,"y":0.039},
{"s":"1.7-1.8 Gev","x":0.2,"y":0.039},{"s":"1.7-1.8 Gev","x":0.22,"y":0.04},{"s":"1.7-1.8 Gev","x":0.24,"y":0.039},{"s":"1.7-1.8 Gev","x":0.26,"y":0.04},{"s":"1.7-1.8 Gev","x":0.28,"y":0.041},{"s":"1.7-1.8 Gev","x":0.3,"y":0.04},{"s":"1.7-1.8 Gev","x":0.32,"y":0.041},{"s":"1.7-1.8 Gev","x":0.34,"y":0.042},{"s":"1.7-1.8 Gev","x":0.36,"y":0.041},{"s":"1.7-1.8 Gev","x":0.38,"y":0.042},
{"s":"1.7-1.8 Gev","x":0.4,"y":0.043},{"s":"1.7-1.8 Gev","x":0.42,"y":0.042},{"s":"1.7-1.8 Gev","x":0.44,"y":0.044},{"s":"1.7-1.8 Gev","x":0.46,"y":0.043},{"s":"1.7-1.8 Gev","x":0.48,"y":0.045},{"s":"1.7-1.8 Gev","x":0.5,"y":0.044},{"s":"1.7-1.8 Gev","x":0.52,"y":0.046},{"s":"1.7-1.8 Gev","x":0.54,"y":0.045},{"s":"1.7-1.8 Gev","x":0.56,"y":0.047},{"s":"1.7-1.8 Gev","x":0.58,"y":0.046},
{"s":"1.7-1.8 Gev","x":0.6,"y":0.048},{"s":"1.7-1.8 Gev","x":0.62,"y":0.047},{"s":"1.7-1.8 Gev","x":0.64,"y":0.049},{"s":"1.7-1.8 Gev","x":0.66,"y":0.048},{"s":"1.7-1.8 Gev","x":0.68,"y":0.05},{"s":"1.7-1.8 Gev","x":0.7,"y":0.049},{"s":"1.7-1.8 Gev","x":0.72,"y":0.051},{"s":"1.7-1.8 Gev","x":0.74,"y":0.05},{"s":"1.7-1.8 Gev","x":0.76,"y":0.052},{"s":"1.7-1.8 Gev","x":0.78,"y":0.053},
{"s":"1.7-1.8 Gev","x":0.8,"y":0.054},{"s":"1.7-1.8 Gev","x":0.82,"y":0.053},{"s":"1.7-1.8 Gev","x":0.84,"y":0.056},{"s":"1.7-1.8 Gev","x":0.86,"y":0.055},{"s":"1.7-1.8 Gev","x":0.88,"y":0.058},{"s":"1.7-1.8 Gev","x":0.9,"y":0.057},{"s":"1.7-1.8 Gev","x":0.92,"y":0.059},{"s":"1.7-1.8 Gev","x":0.94,"y":0.058},{"s":"1.7-1.8 Gev","x":0.96,"y":0.061},{"s":"1.7-1.8 Gev","x":0.98,"y":0.06},
{"s":"1.7-1.8 Gev","x":1,"y":0.062},{"s":"1.7-1.8 Gev","x":1.02,"y":0.061},{"s":"1.7-1.8 Gev","x":1.04,"y":0.064},{"s":"1.7-1.8 Gev","x":1.06,"y":0.063},{"s":"1.7-1.8 Gev","x":1.08,"y":0.066},{"s":"1.7-1.8 Gev","x":1.1,"y":0.064},{"s":"1.7-1.8 Gev","x":1.12,"y":0.068},{"s":"1.7-1.8 Gev","x":1.14,"y":0.066},{"s":"1.7-1.8 Gev","x":1.16,"y":0.07},{"s":"1.7-1.8 Gev","x":1.18,"y":0.067},
{"s":"1.7-1.8 Gev","x":1.2,"y":0.071},{"s":"1.7-1.8 Gev","x":1.22,"y":0.069},{"s":"1.7-1.8 Gev","x":1.24,"y":0.073},{"s":"1.7-1.8 Gev","x":1.26,"y":0.07},{"s":"1.7-1.8 Gev","x":1.28,"y":0.075},{"s":"1.7-1.8 Gev","x":1.3,"y":0.072},{"s":"1.7-1.8 Gev","x":1.32,"y":0.076},{"s":"1.7-1.8 Gev","x":1.34,"y":0.073},{"s":"1.7-1.8 Gev","x":1.36,"y":0.078},{"s":"1.7-1.8 Gev","x":1.38,"y":0.074},
{"s":"1.7-1.8 Gev","x":1.4,"y":0.08},{"s":"1.7-1.8 Gev","x":1.42,"y":0.076},{"s":"1.7-1.8 Gev","x":1.44,"y":0.083},{"s":"1.7-1.8 Gev","x":1.46,"y":0.078},{"s":"1.7-1.8 Gev","x":1.48,"y":0.086},{"s":"1.7-1.8 Gev","x":1.5,"y":0.08},{"s":"1.7-1.8 Gev","x":1.52,"y":0.077},{"s":"1.7-1.8 Gev","x":1.54,"y":0.073},{"s":"1.7-1.8 Gev","x":1.56,"y":0.079},{"s":"1.7-1.8 Gev","x":1.58,"y":0.07},
{"s":"1.7-1.8 Gev","x":1.6,"y":0.076},{"s":"1.7-1.8 Gev","x":1.62,"y":0.072},{"s":"1.7-1.8 Gev","x":1.64,"y":0.08},{"s":"1.7-1.8 Gev","x":1.66,"y":0.074},{"s":"1.7-1.8 Gev","x":1.68,"y":0.083},{"s":"1.7-1.8 Gev","x":1.7,"y":0.078},{"s":"1.7-1.8 Gev","x":1.72,"y":0.085},{"s":"1.7-1.8 Gev","x":1.74,"y":0.076},{"s":"1.7-1.8 Gev","x":1.76,"y":0.082},{"s":"1.7-1.8 Gev","x":1.78,"y":0.088},
{"s":"1.7-1.8 Gev","x":1.8,"y":0.079},{"s":"1.7-1.8 Gev","x":1.82,"y":0.086},{"s":"1.7-1.8 Gev","x":1.84,"y":0.081},{"s":"1.7-1.8 Gev","x":1.86,"y":0.077},{"s":"1.7-1.8 Gev","x":1.88,"y":0.09},{"s":"1.7-1.8 Gev","x":1.9,"y":0.084},{"s":"1.7-1.8 Gev","x":1.92,"y":0.101},{"s":"1.7-1.8 Gev","x":1.94,"y":0.092},{"s":"1.7-1.8 Gev","x":1.96,"y":0.098},{"s":"1.7-1.8 Gev","x":1.98,"y":0.082},
{"s":"1.7-1.8 Gev","x":2,"y":0.082},
{"s":"1.8-1.9 Gev","x":0,"y":0.004},{"s":"1.8-1.9 Gev","x":0.02,"y":0.005},{"s":"1.8-1.9 Gev","x":0.04,"y":0.005},{"s":"1.8-1.9 Gev","x":0.06,"y":0.006},{"s":"1.8-1.9 Gev","x":0.08,"y":0.006},{"s":"1.8-1.9 Gev","x":0.1,"y":0.007},{"s":"1.8-1.9 Gev","x":0.12,"y":0.007},{"s":"1.8-1.9 Gev","x":0.14,"y":0.007},{"s":"1.8-1.9 Gev","x":0.16,"y":0.008},{"s":"1.8-1.9 Gev","x":0.18,"y":0.008},
{"s":"1.8-1.9 Gev","x":0.2,"y":0.008},{"s":"1.8-1.9 Gev","x":0.22,"y":0.009},{"s":"1.8-1.9 Gev","x":0.24,"y":0.009},{"s":"1.8-1.9 Gev","x":0.26,"y":0.01},{"s":"1.8-1.9 Gev","x":0.28,"y":0.01},{"s":"1.8-1.9 Gev","x":0.3,"y":0.01},{"s":"1.8-1.9 Gev","x":0.32,"y":0.011},{"s":"1.8-1.9 Gev","x":0.34,"y":0.011},{"s":"1.8-1.9 Gev","x":0.36,"y":0.012},{"s":"1.8-1.9 Gev","x":0.38,"y":0.012},
{"s":"1.8-1.9 Gev","x":0.4,"y":0.012},{"s":"1.8-1.9 Gev","x":0.42,"y":0.013},{"s":"1.8-1.9 Gev","x":0.44,"y":0.013},{"s":"1.8-1.9 Gev","x":0.46,"y":0.014},{"s":"1.8-1.9 Gev","x":0.48,"y":0.014},{"s":"1.8-1.9 Gev","x":0.5,"y":0.014},{"s":"1.8-1.9 Gev","x":0.52,"y":0.015},{"s":"1.8-1.9 Gev","x":0.54,"y":0.015},{"s":"1.8-1.9 Gev","x":0.56,"y":0.016},{"s":"1.8-1.9 Gev","x":0.58,"y":0.016},
{"s":"1.8-1.9 Gev","x":0.6,"y":0.016},{"s":"1.8-1.9 Gev","x":0.62,"y":0.017},{"s":"1.8-1.9 Gev","x":0.64,"y":0.017},{"s":"1.8-1.9 Gev","x":0.66,"y":0.018},{"s":"1.8-1.9 Gev","x":0.68,"y":0.018},{"s":"1.8-1.9 Gev","x":0.7,"y":0.018},{"s":"1.8-1.9 Gev","x":0.72,"y":0.019},{"s":"1.8-1.9 Gev","x":0.74,"y":0.019},{"s":"1.8-1.9 Gev","x":0.76,"y":0.02},{"s":"1.8-1.9 Gev","x":0.78,"y":0.02},
{"s":"1.8-1.9 Gev","x":0.8,"y":0.02},{"s":"1.8-1.9 Gev","x":0.82,"y":0.021},{"s":"1.8-1.9 Gev","x":0.84,"y":0.02},{"s":"1.8-1.9 Gev","x":0.86,"y":0.022},{"s":"1.8-1.9 Gev","x":0.88,"y":0.021},{"s":"1.8-1.9 Gev","x":0.9,"y":0.023},{"s":"1.8-1.9 Gev","x":0.92,"y":0.022},{"s":"1.8-1.9 Gev","x":0.94,"y":0.024},{"s":"1.8-1.9 Gev","x":0.96,"y":0.023},{"s":"1.8-1.9 Gev","x":0.98,"y":0.024},
{"s":"1.8-1.9 Gev","x":1,"y":0.023},{"s":"1.8-1.9 Gev","x":1.02,"y":0.025},{"s":"1.8-1.9 Gev","x":1.04,"y":0.024},{"s":"1.8-1.9 Gev","x":1.06,"y":0.026},{"s":"1.8-1.9 Gev","x":1.08,"y":0.025},{"s":"1.8-1.9 Gev","x":1.1,"y":0.027},{"s":"1.8-1.9 Gev","x":1.12,"y":0.026},{"s":"1.8-1.9 Gev","x":1.14,"y":0.028},{"s":"1.8-1.9 Gev","x":1.16,"y":0.026},{"s":"1.8-1.9 Gev","x":1.18,"y":0.029},
{"s":"1.8-1.9 Gev","x":1.2,"y":0.027},{"s":"1.8-1.9 Gev","x":1.22,"y":0.03},{"s":"1.8-1.9 Gev","x":1.24,"y":0.028},{"s":"1.8-1.9 Gev","x":1.26,"y":0.029},{"s":"1.8-1.9 Gev","x":1.28,"y":0.031},{"s":"1.8-1.9 Gev","x":1.3,"y":0.028},{"s":"1.8-1.9 Gev","x":1.32,"y":0.03},{"s":"1.8-1.9 Gev","x":1.34,"y":0.032},{"s":"1.8-1.9 Gev","x":1.36,"y":0.029},{"s":"1.8-1.9 Gev","x":1.38,"y":0.031},
{"s":"1.8-1.9 Gev","x":1.4,"y":0.033},{"s":"1.8-1.9 Gev","x":1.42,"y":0.03},{"s":"1.8-1.9 Gev","x":1.44,"y":0.032},{"s":"1.8-1.9 Gev","x":1.46,"y":0.034},{"s":"1.8-1.9 Gev","x":1.48,"y":0.031},{"s":"1.8-1.9 Gev","x":1.5,"y":0.033},{"s":"1.8-1.9 Gev","x":1.52,"y":0.035},{"s":"1.8-1.9 Gev","x":1.54,"y":0.032},{"s":"1.8-1.9 Gev","x":1.56,"y":0.034},{"s":"1.8-1.9 Gev","x":1.58,"y":0.031},
{"s":"1.8-1.9 Gev","x":1.6,"y":0.035},{"s":"1.8-1.9 Gev","x":1.62,"y":0.033},{"s":"1.8-1.9 Gev","x":1.64,"y":0.036},{"s":"1.8-1.9 Gev","x":1.66,"y":0.032},{"s":"1.8-1.9 Gev","x":1.68,"y":0.037},{"s":"1.8-1.9 Gev","x":1.7,"y":0.034},{"s":"1.8-1.9 Gev","x":1.72,"y":0.031},{"s":"1.8-1.9 Gev","x":1.74,"y":0.036},{"s":"1.8-1.9 Gev","x":1.76,"y":0.033},{"s":"1.8-1.9 Gev","x":1.78,"y":0.038},
{"s":"1.8-1.9 Gev","x":1.8,"y":0.034},{"s":"1.8-1.9 Gev","x":1.82,"y":0.03},{"s":"1.8-1.9 Gev","x":1.84,"y":0.036},{"s":"1.8-1.9 Gev","x":1.86,"y":0.033},{"s":"1.8-1.9 Gev","x":1.88,"y":0.038},{"s":"1.8-1.9 Gev","x":1.9,"y":0.032},{"s":"1.8-1.9 Gev","x":1.92,"y":0.035},{"s":"1.8-1.9 Gev","x":1.94,"y":0.029},{"s":"1.8-1.9 Gev","x":1.96,"y":0.034},{"s":"1.8-1.9 Gev","x":1.98,"y":0.031},
{"s":"1.8-1.9 Gev","x":2,"y":0.031},
{"s":"1.9-2 Gev","x":0,"y":0.004},{"s":"1.9-2 Gev","x":0.02,"y":0.004},{"s":"1.9-2 Gev","x":0.04,"y":0.005},{"s":"1.9-2 Gev","x":0.06,"y":0.005},{"s":"1.9-2 Gev","x":0.08,"y":0.006},{"s":"1.9-2 Gev","x":0.1,"y":0.006},{"s":"1.9-2 Gev","x":0.12,"y":0.007},{"s":"1.9-2 Gev","x":0.14,"y":0.007},{"s":"1.9-2 Gev","x":0.16,"y":0.008},{"s":"1.9-2 Gev","x":0.18,"y":0.008},
{"s":"1.9-2 Gev","x":0.2,"y":0.009},{"s":"1.9-2 Gev","x":0.22,"y":0.009},{"s":"1.9-2 Gev","x":0.24,"y":0.01},{"s":"1.9-2 Gev","x":0.26,"y":0.01},{"s":"1.9-2 Gev","x":0.28,"y":0.011},{"s":"1.9-2 Gev","x":0.3,"y":0.011},{"s":"1.9-2 Gev","x":0.32,"y":0.012},{"s":"1.9-2 Gev","x":0.34,"y":0.013},{"s":"1.9-2 Gev","x":0.36,"y":0.013},{"s":"1.9-2 Gev","x":0.38,"y":0.014},
{"s":"1.9-2 Gev","x":0.4,"y":0.015},{"s":"1.9-2 Gev","x":0.42,"y":0.015},{"s":"1.9-2 Gev","x":0.44,"y":0.016},{"s":"1.9-2 Gev","x":0.46,"y":0.017},{"s":"1.9-2 Gev","x":0.48,"y":0.018},{"s":"1.9-2 Gev","x":0.5,"y":0.019},{"s":"1.9-2 Gev","x":0.52,"y":0.019},{"s":"1.9-2 Gev","x":0.54,"y":0.02},{"s":"1.9-2 Gev","x":0.56,"y":0.021},{"s":"1.9-2 Gev","x":0.58,"y":0.022},
{"s":"1.9-2 Gev","x":0.6,"y":0.023},{"s":"1.9-2 Gev","x":0.62,"y":0.024},{"s":"1.9-2 Gev","x":0.64,"y":0.025},{"s":"1.9-2 Gev","x":0.66,"y":0.026},{"s":"1.9-2 Gev","x":0.68,"y":0.027},{"s":"1.9-2 Gev","x":0.7,"y":0.028},{"s":"1.9-2 Gev","x":0.72,"y":0.029},{"s":"1.9-2 Gev","x":0.74,"y":0.03},{"s":"1.9-2 Gev","x":0.76,"y":0.031},{"s":"1.9-2 Gev","x":0.78,"y":0.032},
{"s":"1.9-2 Gev","x":0.8,"y":0.033},{"s":"1.9-2 Gev","x":0.82,"y":0.034},{"s":"1.9-2 Gev","x":0.84,"y":0.035},{"s":"1.9-2 Gev","x":0.86,"y":0.036},{"s":"1.9-2 Gev","x":0.88,"y":0.038},{"s":"1.9-2 Gev","x":0.9,"y":0.039},{"s":"1.9-2 Gev","x":0.92,"y":0.04},{"s":"1.9-2 Gev","x":0.94,"y":0.042},{"s":"1.9-2 Gev","x":0.96,"y":0.043},{"s":"1.9-2 Gev","x":0.98,"y":0.045},
{"s":"1.9-2 Gev","x":1,"y":0.046},{"s":"1.9-2 Gev","x":1.02,"y":0.048},{"s":"1.9-2 Gev","x":1.04,"y":0.049},{"s":"1.9-2 Gev","x":1.06,"y":0.051},{"s":"1.9-2 Gev","x":1.08,"y":0.053},{"s":"1.9-2 Gev","x":1.1,"y":0.054},{"s":"1.9-2 Gev","x":1.12,"y":0.056},{"s":"1.9-2 Gev","x":1.14,"y":0.058},{"s":"1.9-2 Gev","x":1.16,"y":0.06},{"s":"1.9-2 Gev","x":1.18,"y":0.061},
{"s":"1.9-2 Gev","x":1.2,"y":0.063},{"s":"1.9-2 Gev","x":1.22,"y":0.065},{"s":"1.9-2 Gev","x":1.24,"y":0.064},{"s":"1.9-2 Gev","x":1.26,"y":0.068},{"s":"1.9-2 Gev","x":1.28,"y":0.07},{"s":"1.9-2 Gev","x":1.3,"y":0.072},{"s":"1.9-2 Gev","x":1.32,"y":0.074},{"s":"1.9-2 Gev","x":1.34,"y":0.073},{"s":"1.9-2 Gev","x":1.36,"y":0.078},{"s":"1.9-2 Gev","x":1.38,"y":0.08},
{"s":"1.9-2 Gev","x":1.4,"y":0.079},{"s":"1.9-2 Gev","x":1.42,"y":0.083},{"s":"1.9-2 Gev","x":1.44,"y":0.086},{"s":"1.9-2 Gev","x":1.46,"y":0.084},{"s":"1.9-2 Gev","x":1.48,"y":0.09},{"s":"1.9-2 Gev","x":1.5,"y":0.098},{"s":"1.9-2 Gev","x":1.52,"y":0.104},{"s":"1.9-2 Gev","x":1.54,"y":0.112},{"s":"1.9-2 Gev","x":1.56,"y":0.12},{"s":"1.9-2 Gev","x":1.58,"y":0.116},
{"s":"1.9-2 Gev","x":1.6,"y":0.125},{"s":"1.9-2 Gev","x":1.62,"y":0.13},{"s":"1.9-2 Gev","x":1.64,"y":0.126},{"s":"1.9-2 Gev","x":1.66,"y":0.134},{"s":"1.9-2 Gev","x":1.68,"y":0.14},{"s":"1.9-2 Gev","x":1.7,"y":0.136},{"s":"1.9-2 Gev","x":1.72,"y":0.145},{"s":"1.9-2 Gev","x":1.74,"y":0.142},{"s":"1.9-2 Gev","x":1.76,"y":0.15},{"s":"1.9-2 Gev","x":1.78,"y":0.158},
{"s":"1.9-2 Gev","x":1.8,"y":0.165},{"s":"1.9-2 Gev","x":1.82,"y":0.16},{"s":"1.9-2 Gev","x":1.84,"y":0.178},{"s":"1.9-2 Gev","x":1.86,"y":0.186},{"s":"1.9-2 Gev","x":1.88,"y":0.18},{"s":"1.9-2 Gev","x":1.9,"y":0.19},{"s":"1.9-2 Gev","x":1.92,"y":0.184},{"s":"1.9-2 Gev","x":1.94,"y":0.196},{"s":"1.9-2 Gev","x":1.96,"y":0.205},{"s":"1.9-2 Gev","x":1.98,"y":0.218},
{"s":"1.9-2 Gev","x":2,"y":0.218}
  ]},
  "layer": [
    {
      "mark": {"type": "line", "interpolate": "step-after", "strokeWidth": 3, "strokeJoin": "miter", "strokeCap": "butt"},
      "encoding": {
        "x": {
          "field": "x", "type": "quantitative",
          "scale": {"domain": [0, 2], "nice": false, "zero": false},
          "axis": {
            "orient": "bottom", "values": [0, 0.2, 0.4, 0.6, 0.8, 1, 1.2, 1.4, 1.6, 1.8, 2], "format": "~g",
            "grid": false, "domainColor": "black", "domainWidth": 1,
            "tickColor": "black", "tickWidth": 1, "tickSize": -13,
            "labelFont": "Liberation Sans", "labelFontSize": 18, "labelColor": "black", "labelPadding": 18,
            "labelFlush": false, "labelBound": false, "labelOverlap": false,
            "title": "p\u00a0\u00a0\u00a0[GeV]", "titleFont": "Liberation Sans", "titleFontSize": 18, "titleFontWeight": "normal", "titleColor": "black",
            "titleAlign": "right", "titleBaseline": "alphabetic", "titleX": 504, "titleY": 34,
            "zindex": 1
          }
        },
        "y": {
          "field": "y", "type": "quantitative",
          "scale": {"domain": [0, 3], "nice": false},
          "axis": {
            "orient": "left", "values": [0, 0.5, 1, 1.5, 2, 2.5, 3], "format": "~g",
            "grid": false, "domainColor": "black", "domainWidth": 1,
            "tickColor": "black", "tickWidth": 1, "tickSize": -14,
            "labelFont": "Liberation Sans", "labelFontSize": 18, "labelColor": "black", "labelPadding": 18,
            "labelBound": false, "labelOverlap": false,
            "title": "N\u00a0/N", "titleFont": "Liberation Sans", "titleFontSize": 18, "titleFontWeight": "normal", "titleColor": "black",
            "titleAngle": 270, "titleAlign": "left", "titleBaseline": "alphabetic", "titleX": -31, "titleY": 46,
            "zindex": 1
          }
        },
        "color": {
          "field": "s", "type": "nominal",
          "scale": {
            "domain": ["do 1 Gev", "1-1.3 Gev", "1.3-1.4 Gev", "1.4-1.5 Gev", "1.5-1.6 Gev", "1.6-1.7 Gev", "1.7-1.8 Gev", "1.8-1.9 Gev", "1.9-2 Gev"],
            "range": ["#ff0000", "#ff7700", "#ffcc00", "#ddff00", "#00ff99", "#0044ff", "#8800ff", "#cc6666", "#ff00ff"]
          },
          "legend": {
            "orient": "none", "legendX": 23, "legendY": 7, "direction": "vertical",
            "title": null, "fillColor": "white", "strokeColor": "#444444", "padding": 3,
            "symbolType": "M-0.6,0H2.4", "symbolSize": 256, "symbolStrokeWidth": 3,
            "labelFont": "Liberation Sans", "labelFontSize": 14, "labelColor": "black", "labelOffset": 14,
            "rowPadding": 6.75, "labelLimit": 300,
            "labelExpr": "datum.label + '\u00a0\u00a0\u00a0\u00a0\u00a0\u00a0\u00a0\u00a0\u00a0\u200b'"
          }
        }
      }
    },
    {
      "mark": {"type": "line", "opacity": 0},
      "encoding": {
        "x": {
          "field": "x", "type": "quantitative",
          "axis": {
            "orient": "bottom", "labels": false, "domain": false, "grid": false,
            "values": [0.05, 0.1, 0.15, 0.25, 0.3, 0.35, 0.45, 0.5, 0.55, 0.65, 0.7, 0.75, 0.85, 0.9, 0.95, 1.05, 1.1, 1.15, 1.25, 1.3, 1.35, 1.45, 1.5, 1.55, 1.65, 1.7, 1.75, 1.85, 1.9, 1.95],
            "tickColor": "black", "tickWidth": 1, "tickSize": -7,
            "title": "T", "titleFont": "Liberation Sans", "titleFontSize": 13, "titleFontWeight": "normal", "titleColor": "black",
            "titleAlign": "left", "titleBaseline": "alphabetic", "titleX": 439, "titleY": 47,
            "zindex": 1
          }
        },
        "y": {
          "field": "y", "type": "quantitative",
          "axis": {
            "orient": "left", "labels": false, "domain": false, "grid": false,
            "values": [0.1, 0.2, 0.3, 0.4, 0.6, 0.7, 0.8, 0.9, 1.1, 1.2, 1.3, 1.4, 1.6, 1.7, 1.8, 1.9, 2.1, 2.2, 2.3, 2.4, 2.6, 2.7, 2.8, 2.9],
            "tickColor": "black", "tickWidth": 1, "tickSize": -7,
            "title": "r\u00a0\u00a0\u00a0\u00a0\u00a0p", "titleFont": "Liberation Sans", "titleFontSize": 13, "titleFontWeight": "normal", "titleColor": "black",
            "titleAngle": 270, "titleAlign": "left", "titleBaseline": "alphabetic", "titleX": -26, "titleY": 33,
            "zindex": 1
          }
        }
      }
    }
  ],
  "resolve": {"axis": {"x": "independent", "y": "independent"}}
}
